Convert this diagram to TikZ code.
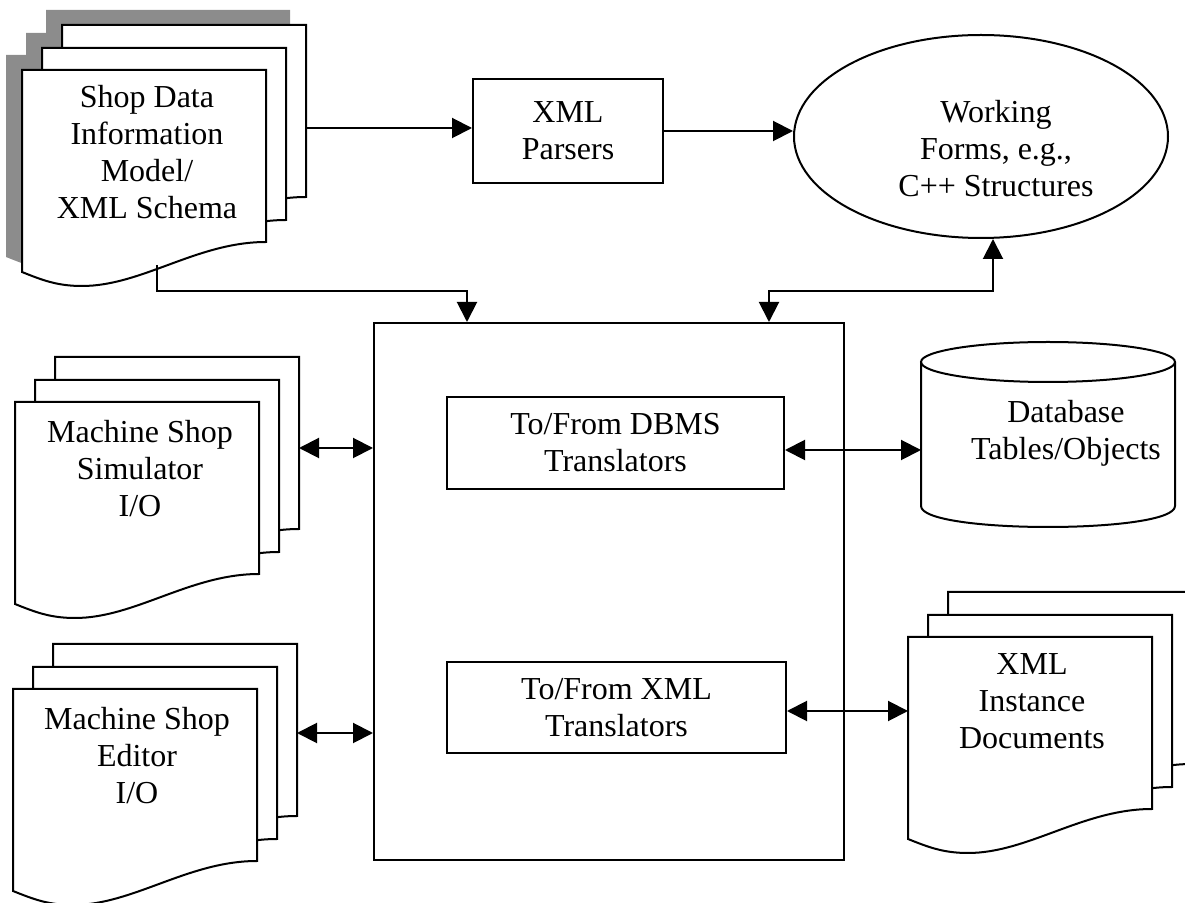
\documentclass[tikz,border=0pt]{standalone}
\usepackage{fontspec}
\setmainfont{Liberation Serif}
\usetikzlibrary{arrows.meta,shapes.geometric}

\begin{document}
\begin{tikzpicture}[x=0.5pt, y=-0.5pt, line width=1pt,
  >={Triangle[length=10pt,width=10pt]},
  every node/.style={inner sep=0pt, align=center,
    font=\fontsize{16}{18.5}\selectfont},
  procbox/.style={draw, rectangle},
  sheet/.style={draw, fill=white},
  shadowfill/.style={fill=black!45},
  docpage/.pic={\draw[sheet] (0,0) -- (244,0) -- (244,172)
    .. controls (175,172) and (120,216) .. (60,216)
    .. controls (35,216) and (20,210) .. (0,202) -- cycle;},
  docshade/.pic={\fill[shadowfill] (0,0) -- (244,0) -- (244,172)
    .. controls (175,172) and (120,216) .. (60,216)
    .. controls (35,216) and (20,210) .. (0,202) -- cycle;}]
  \useasboundingbox (0,0) rectangle (1185,903);
  \clip (0,0) rectangle (1185,903);

  % shop data stack, with shadow
  \begin{scope}[shift={(22,70)}]
    \foreach \dx/\dy in {40/-45,20/-22,0/0}
      \pic at (\dx-16,\dy-15) {docshade};
    \foreach \dx/\dy in {40/-45,20/-22,0/0}
      \pic at (\dx,\dy) {docpage};
  \end{scope}
  % the other document stacks
  \foreach \sx/\sy in {15/402,13/689,908/637} {
    \begin{scope}[shift={(\sx,\sy)}]
      \foreach \dx/\dy in {40/-45,20/-22,0/0}
        \pic at (\dx,\dy) {docpage};
    \end{scope}
  }

  \node[anchor=north] (schema) at (147,84) {Shop Data\\Information\\Model/\\XML Schema};
  \node[anchor=north] (sim) at (140,419) {Machine Shop\\Simulator\\I/O};
  \node[anchor=north] (editor) at (137,706) {Machine Shop\\Editor\\I/O};
  \node[anchor=north] (docs) at (1032,653) {XML\\Instance\\Documents};

  \node[procbox, minimum width=95pt, minimum height=52pt] (parsers) at (568,131) {XML\\Parsers};
  \node[ellipse, draw, minimum width=187pt, minimum height=101.5pt] (forms) at (981,136.5) {};
  \node[anchor=north] (formstext) at (996,99) {Working\\Forms, e.g.,\\C++ Structures};

  \node[procbox, minimum width=235pt, minimum height=268.5pt] (hub) at (609,591.5) {};
  \node[procbox, minimum width=168.5pt, minimum height=46pt] (dbms) at (615.5,443) {To/From DBMS\\Translators};
  \node[procbox, minimum width=169.5pt, minimum height=45.5pt] (xmltr) at (616.5,707.5) {To/From XML\\Translators};

  % database cylinder
  \draw[fill=white] (921,362) -- (921,506) .. controls (921,534) and (1175,534) .. (1175,506) -- (1175,362);
  \draw (1048,362) ellipse [x radius=127, y radius=20];
  \node[anchor=north] (db) at (1066,399) {Database\\Tables/Objects};

  \coordinate (schemaR) at (306,128);
  \coordinate (schemaB) at (157,265);
  \coordinate (simR) at (299,448);
  \coordinate (edR) at (297,733);
  \coordinate (dbL) at (921,450);
  \coordinate (docsL) at (908,711);
  \coordinate (j1) at (467,291);
  \coordinate (j2) at (769,291);
  \coordinate (j3) at (993,291);

  \draw[->] (schemaR) -- (schemaR -| parsers.west);
  \draw[->] (parsers.east) -- (parsers.east -| forms.west);
  \draw[->] (schemaB) |- (j1) -- (j1 |- hub.north);
  \draw[<->] (j2 |- hub.north) -- (j2) -- (j3) -- (j3 |- forms.south);
  \draw[<->] (simR) -- (simR -| hub.west);
  \draw[<->] (edR) -- (edR -| hub.west);
  \draw[<->] (dbms.east |- dbL) -- (dbL);
  \draw[<->] (xmltr.east |- docsL) -- (docsL);
\end{tikzpicture}
\end{document}
